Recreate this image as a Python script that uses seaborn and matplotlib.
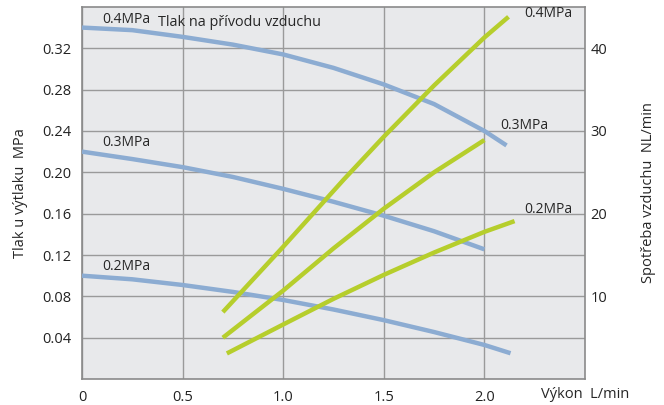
import numpy as np
import pandas as pd
import seaborn as sns
from matplotlib import pyplot as plt

# pressure at outlet (left axis, MPa) vs output L/min
x_p04 = [0, 0.25, 0.5, 0.75, 1.0, 1.25, 1.5, 1.75, 2.0, 2.11]
y_p04 = [0.340, 0.3375, 0.331, 0.3235, 0.314, 0.301, 0.285, 0.266, 0.240, 0.226]
x_p03 = [0, 0.25, 0.5, 0.75, 1.0, 1.25, 1.5, 1.75, 2.0]
y_p03 = [0.220, 0.2128, 0.205, 0.1955, 0.184, 0.1715, 0.158, 0.143, 0.1255]
x_p02 = [0, 0.25, 0.5, 0.75, 1.0, 1.25, 1.5, 1.75, 2.0, 2.13]
y_p02 = [0.100, 0.0965, 0.091, 0.0843, 0.0765, 0.0673, 0.057, 0.0455, 0.033, 0.025]

# air consumption (right axis, NL/min)
x_q04 = [0.70, 1.0, 1.3, 1.5, 1.75, 2.0, 2.12]
y_q04 = [8.1, 16.0, 24.1, 29.3, 35.5, 41.3, 43.8]
x_q03 = [0.70, 1.0, 1.25, 1.5, 1.75, 2.0]
y_q03 = [5.0, 10.7, 15.8, 20.6, 25.0, 28.9]
x_q02 = [0.72, 1.0, 1.25, 1.5, 1.75, 2.0, 2.15]
y_q02 = [3.1, 6.6, 9.7, 12.6, 15.3, 17.8, 19.1]

left_ticks = [0.04, 0.08, 0.12, 0.16, 0.20, 0.24, 0.28, 0.32]
right_ticks = [10, 20, 30, 40]
x_ticks = [0, 0.5, 1.0, 1.5, 2.0]
x_ticklabels = ['0', '0.5', '1.0', '1.5', '2.0']

blue = '#8cacd2'
green = '#b6ce2c'

sns.set_style('ticks')
plt.rcParams['font.family'] = ['Open Sans', 'DejaVu Sans']
plt.rcParams['font.size'] = 10

fig = plt.figure(figsize=(6.64, 4.05), dpi=100)
ax = fig.add_axes([0.1235, 0.064, 0.7575, 0.919])
ax.set_facecolor('#e8e9eb')

for xs, ys in [(x_p04, y_p04), (x_p03, y_p03), (x_p02, y_p02)]:
    df = pd.DataFrame({'x': xs, 'y': ys})
    sns.lineplot(data=df, x='x', y='y', ax=ax, color=blue, lw=3.2,
                 sort=False, estimator=None, zorder=3,
                 solid_joinstyle='round', solid_capstyle='butt')

ax.set_xlim(0, 2.5)
ax.set_ylim(0, 0.36)
ax.set_xticks(x_ticks)
ax.set_xticklabels(x_ticklabels)
ax.set_yticks(left_ticks)
ax.set_yticklabels(['%.2f' % t for t in left_ticks])
ax.grid(True, color='#9a9a9a', lw=1.0)
ax.tick_params(length=0, pad=8, labelsize=10.5, colors='#222222')
ax.set_xlabel('')
ax.set_ylabel('Tlak u výtlaku  MPa', fontsize=10.5, labelpad=10)
for s in ax.spines.values():
    s.set_color('#8a8a8a')
    s.set_linewidth(1.2)

ax2 = ax.twinx()
for xs, ys in [(x_q04, y_q04), (x_q03, y_q03), (x_q02, y_q02)]:
    df = pd.DataFrame({'x': xs, 'y': ys})
    sns.lineplot(data=df, x='x', y='y', ax=ax2, color=green, lw=3.2,
                 sort=False, estimator=None, zorder=3,
                 solid_joinstyle='round', solid_capstyle='butt')
ax2.set_ylim(0, 45)
ax2.set_yticks(right_ticks)
ax2.tick_params(length=0, pad=4, labelsize=10.5, colors='#222222')
ax2.set_ylabel('Spotřeba vzduchu  NL/min', fontsize=10.5, labelpad=24)
for s in ax2.spines.values():
    s.set_visible(False)

# curve labels
ax.text(0.1, 0.341, '0.4MPa', fontsize=10, va='bottom')
ax.text(0.38, 0.338, 'Tlak na přívodu vzduchu', fontsize=10.4, va='bottom')
ax.text(0.1, 0.222, '0.3MPa', fontsize=10, va='bottom')
ax.text(0.1, 0.102, '0.2MPa', fontsize=10, va='bottom')
ax2.text(2.2, 43.3, '0.4MPa', fontsize=10, va='bottom')
ax2.text(2.08, 29.8, '0.3MPa', fontsize=10, va='bottom')
ax2.text(2.2, 19.6, '0.2MPa', fontsize=10, va='bottom')

fig.text(0.815, 0.008, 'Výkon  L/min', fontsize=10.5, ha='left', va='bottom')

fig.savefig('out.png', dpi=100)
